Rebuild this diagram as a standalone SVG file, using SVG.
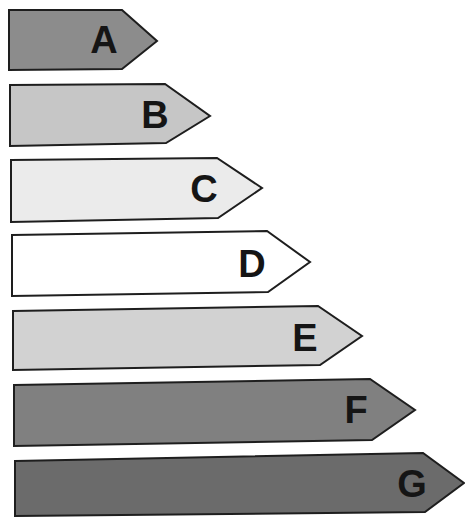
<svg xmlns="http://www.w3.org/2000/svg" width="465" height="517" viewBox="0 0 465 517">
<style>
.bar{stroke:#1e1e1e;stroke-width:2;stroke-linejoin:miter}
.lbl{font-family:"Liberation Sans",Arial,sans-serif;font-weight:bold;font-size:38px;fill:#151515;text-anchor:middle}
</style>
<rect width="465" height="517" fill="#ffffff"/>
<g id="nodeA"><polygon class="bar" fill="#8c8c8c" points="9,10 122,10 157,41 122,69 9,70"/><text class="lbl" x="104" y="53">A</text></g>
<g id="nodeB"><polygon class="bar" fill="#c6c6c6" points="10,85 165,84 210,116 166,143 10,146"/><text class="lbl" x="155" y="128">B</text></g>
<g id="nodeC"><polygon class="bar" fill="#ebebeb" points="11,160 217,158 262,188 218,218 11,222"/><text class="lbl" x="204" y="202">C</text></g>
<g id="nodeD"><polygon class="bar" fill="#ffffff" points="12,235 267,231 310,262 268,292 12,296"/><text class="lbl" x="252" y="277">D</text></g>
<g id="nodeE"><polygon class="bar" fill="#d2d2d2" points="13,311 318,306 362,336 320,365 13,370"/><text class="lbl" x="305" y="351">E</text></g>
<g id="nodeF"><polygon class="bar" fill="#808080" points="14,385 370,379 415,410 372,440 14,446"/><text class="lbl" x="356" y="423">F</text></g>
<g id="nodeG"><polygon class="bar" fill="#6b6b6b" points="15,461 423,453 464,483 425,512 15,516"/><text class="lbl" x="412" y="497">G</text></g>
<g id="connectors"></g>
</svg>
